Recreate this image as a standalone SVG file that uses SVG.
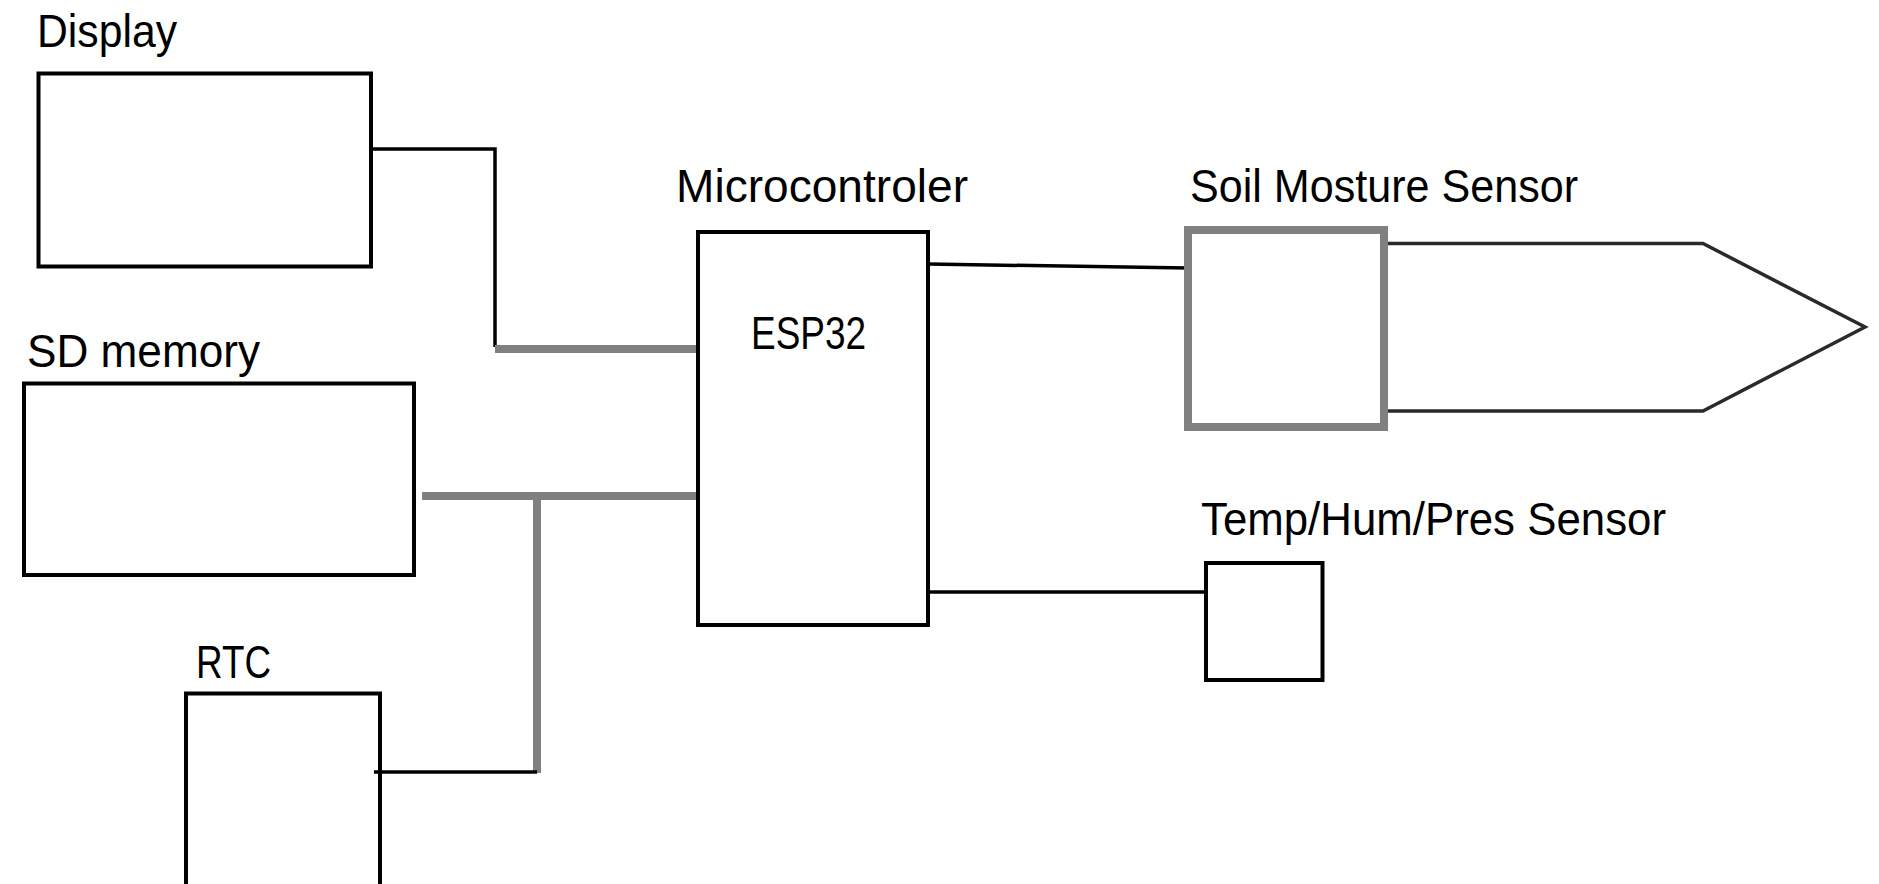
<svg xmlns="http://www.w3.org/2000/svg" width="1879" height="884" viewBox="0 0 1879 884">
<style>
.box{fill:none;stroke:#000;stroke-width:4}
.soil{fill:none;stroke:#808080;stroke-width:8}
.lbl{font-family:"Liberation Sans",Arial,sans-serif;font-size:47px;fill:#000}
.wire{fill:none;stroke:#000;stroke-width:3.5}
.bus{fill:none;stroke:#808080;stroke-width:8}
.probe{fill:none;stroke:#2a2a2a;stroke-width:3.5}
</style>
<rect width="1879" height="884" fill="#fff"/>
<g id="connectors">
<polyline class="wire" points="373,149 495,149 495,347"/>
<line class="bus" x1="495" y1="349" x2="697" y2="349"/>
<line class="bus" x1="422" y1="496" x2="697" y2="496"/>
<line class="bus" x1="537" y1="496" x2="537" y2="773"/>
<line class="wire" x1="374" y1="772" x2="537" y2="772"/>
<line class="wire" x1="928" y1="264" x2="1188" y2="268"/>
<line class="wire" x1="928" y1="592" x2="1206" y2="592"/>
</g>
<g id="display">
<text class="lbl" x="37" y="47" textLength="140" lengthAdjust="spacingAndGlyphs">Display</text>
<rect class="box" x="38.5" y="73.5" width="332.5" height="193"/>
</g>
<g id="sd-memory">
<text class="lbl" x="27" y="367" textLength="233" lengthAdjust="spacingAndGlyphs">SD memory</text>
<rect class="box" x="24" y="383.5" width="390" height="191.5"/>
</g>
<g id="rtc">
<text class="lbl" x="196" y="678" textLength="75" lengthAdjust="spacingAndGlyphs">RTC</text>
<rect class="box" x="186" y="693.5" width="194" height="300"/>
</g>
<g id="microcontroller">
<text class="lbl" x="676" y="201.5" textLength="292" lengthAdjust="spacingAndGlyphs">Microcontroler</text>
<rect class="box" x="698" y="232" width="230" height="393"/>
<text class="lbl" x="751" y="348.5" textLength="115" lengthAdjust="spacingAndGlyphs">ESP32</text>
</g>
<g id="soil-sensor">
<text class="lbl" x="1190" y="201.5" textLength="388" lengthAdjust="spacingAndGlyphs">Soil Mosture Sensor</text>
<rect class="soil" x="1188" y="230" width="196" height="197"/>
<polyline class="probe" points="1388,243.5 1703,243.5 1865,327 1703,411 1388,411"/>
</g>
<g id="temp-sensor">
<text class="lbl" x="1201" y="535" textLength="465" lengthAdjust="spacingAndGlyphs">Temp/Hum/Pres Sensor</text>
<rect class="box" x="1206" y="563" width="116.5" height="117"/>
</g>
</svg>
